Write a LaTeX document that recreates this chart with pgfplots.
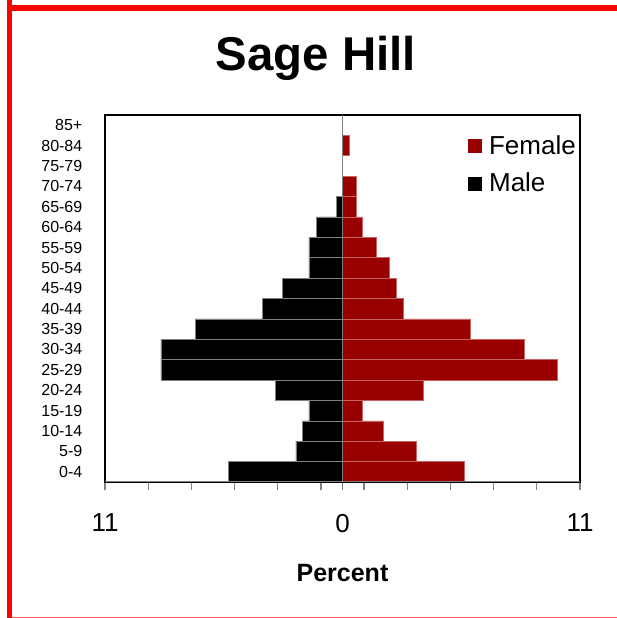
\documentclass[border=0pt]{standalone}
\usepackage{fontspec}
\setmainfont{Liberation Sans}
\usepackage{pgfplots}
\pgfplotsset{compat=1.18}
\definecolor{femred}{HTML}{990000}
\definecolor{femedge}{HTML}{C86464}
\definecolor{frame}{HTML}{FF0000}
\begin{document}
\begin{tikzpicture}
\path[use as bounding box] (0,0) rectangle (308.5pt,309pt);
% frame
\fill[frame] (3.65pt,0pt) rectangle (6.15pt,309pt);
\fill[frame] (3.65pt,303.6pt) rectangle (308.5pt,306.6pt);
\fill[red!65] (6.15pt,0pt) rectangle (308.5pt,0.6pt);
% title
\node[anchor=base, font=\bfseries\fontsize{23.7}{28}\selectfont, inner sep=0pt] at (158pt,274pt) {Sage Hill};
\begin{axis}[
  at={(52.5pt,68pt)}, anchor=south west,
  scale only axis, width=237.5pt, height=183.5pt,
  xmin=-11, xmax=11, ymin=-0.5, ymax=17.5,
  axis line style={black, line width=0.65pt},
  xtick={-11,-9,-7,-5,-3,-1,0,1,3,5,7,9,11},
  xticklabels={11,,,,,,0,,,,,,11},
  xtick pos=left,
  tick align=outside,
  major tick length=3.75pt,
  x tick style={gray, line width=0.6pt},
  xticklabel shift=12pt,
  xticklabel style={font=\fontsize{13}{15}\selectfont, inner sep=0pt, anchor=north},
  ytick={0,...,17},
  yticklabels={0-4,5-9,10-14,15-19,20-24,25-29,30-34,35-39,40-44,45-49,50-54,55-59,60-64,65-69,70-74,75-79,80-84,85+},
  y tick style={draw=none},
  yticklabel shift=7.4pt,
  yticklabel style={font=\fontsize{8}{9}\selectfont, inner sep=0pt, anchor=east},
  xlabel={Percent},
  xlabel style={at={(rel axis cs:0.5,0)}, anchor=north, yshift=-41pt, inner sep=0pt, font=\bfseries\fontsize{12.5}{14}\selectfont},
  legend style={draw=none, fill=none, at={(rel axis cs:0.7636,0.954)}, anchor=north west,
    font=\fontsize{13}{15}\selectfont, inner sep=0pt, row sep=5pt,
    cells={anchor=west}, nodes={inner sep=1.5pt}},
]
\draw[gray, line width=0.6pt] (axis cs:0,-0.5) -- (axis cs:0,17.5);
\addplot[xbar, bar width=1, bar shift=0pt, fill=femred, draw=femedge, line width=0.3pt,
  legend image code/.code={\path[draw=none,fill=none] (0pt,-3.5pt) rectangle (9pt,3.5pt); \fill[femred, draw=none] (0pt,-3.5pt) rectangle (7pt,3.5pt);}]
  coordinates {(5.62,0) (3.44,1) (1.87,2) (0.94,3) (3.75,4) (9.97,5) (8.43,6) (5.93,7) (2.81,8) (2.49,9) (2.18,10) (1.55,11) (0.93,12) (0.62,13) (0.62,14) (0,15) (0.31,16) (0,17)};
\addlegendentry{Female}
\addplot[xbar, bar width=1, bar shift=0pt, fill=black, draw=gray, line width=0.3pt,
  legend image code/.code={\path[draw=none,fill=none] (0pt,-3.5pt) rectangle (9pt,3.5pt); \fill[black, draw=none] (0pt,-3.5pt) rectangle (7pt,3.5pt);}]
  coordinates {(-5.28,0) (-2.16,1) (-1.85,2) (-1.56,3) (-3.10,4) (-8.41,5) (-8.41,6) (-6.83,7) (-3.72,8) (-2.79,9) (-1.56,10) (-1.56,11) (-1.22,12) (-0.29,13) (0,14) (0,15) (0,16) (0,17)};
\addlegendentry{Male}
\draw[gray, line width=0.8pt] (rel axis cs:0,0) -- (rel axis cs:1,0);
\end{axis}
\end{tikzpicture}
\end{document}
